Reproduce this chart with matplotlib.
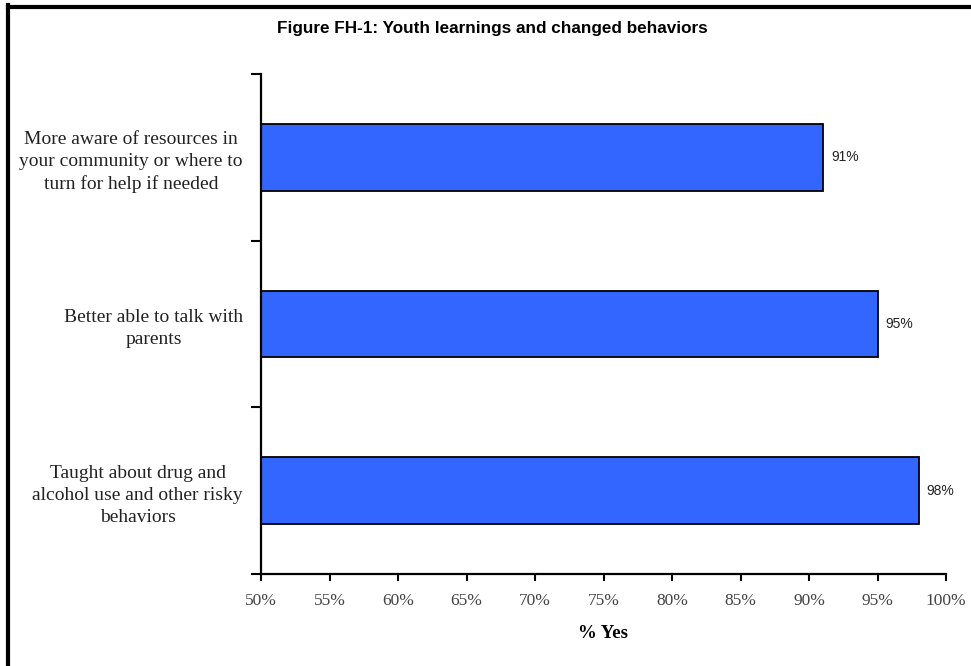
import matplotlib
matplotlib.use("Agg")
import matplotlib.pyplot as plt
from matplotlib.lines import Line2D
import numpy as np

# Survey items (top to bottom) and share answering "Yes"
categories = [
    "More aware of resources in\nyour community or where to\nturn for help if needed",
    "Better able to talk with\nparents",
    "Taught about drug and\nalcohol use and other risky\nbehaviors",
]
values = [91, 95, 98]
x_ticks = [50, 55, 60, 65, 70, 75, 80, 85, 90, 95, 100]
x_tick_labels = [f"{t}%" for t in x_ticks]

W, H = 971, 666
fig = plt.figure(figsize=(W / 100, H / 100), dpi=100)
ax = fig.add_axes([261 / W, 1 - 574 / H, (946 - 261) / W, (574 - 74) / H])

ypos = np.arange(len(categories))
bars = ax.barh(ypos, [v - 50 for v in values], left=50, height=0.4,
               color="#3366FF", edgecolor="black", linewidth=1.3)

ax.set_xlim(50, 100)
ax.set_ylim(len(categories) - 0.5, -0.5)

# Category labels centred on each bar, ticks at the category boundaries
ax.set_yticks(ypos)
ax.set_yticklabels(categories, family="Liberation Serif", fontsize=14,
                   color="#222222", multialignment="center", linespacing=1.38)
ax.tick_params(axis="y", which="major", length=0, pad=13)
ax.set_yticks(np.arange(-0.5, len(categories), 1.0), minor=True)
ax.tick_params(axis="y", which="minor", length=7, width=1.5, direction="out")

ax.set_xticks(x_ticks)
ax.set_xticklabels(x_tick_labels, family="Liberation Serif", fontsize=12.5,
                   color="#444444")
ax.tick_params(axis="x", length=5, width=1.5, direction="out", pad=9)

for side in ("top", "right"):
    ax.spines[side].set_visible(False)
for side in ("left", "bottom"):
    ax.spines[side].set_linewidth(1.6)

ax.set_xlabel("% Yes", family="Liberation Serif", fontweight="bold",
              fontsize=13.5, labelpad=11)

for b, v in zip(bars, values):
    ax.text(v + 0.6, b.get_y() + b.get_height() / 2, f"{v}%",
            va="center", ha="left", family="Liberation Sans", fontsize=10,
            color="#222222")

fig.text(492 / W, 1 - 28 / H, "Figure FH-1: Youth learnings and changed behaviors",
         ha="center", va="center", family="Liberation Sans",
         fontweight="bold", fontsize=12.3)

# Frame lines along the top and left edges
fig.add_artist(Line2D([8 / W, 1], [1 - 7 / H, 1 - 7 / H], color="black",
                      linewidth=3, transform=fig.transFigure))
fig.add_artist(Line2D([8 / W, 8 / W], [0, 1 - 5 / H], color="black",
                      linewidth=3, transform=fig.transFigure))

fig.savefig("out.png", dpi=100)
